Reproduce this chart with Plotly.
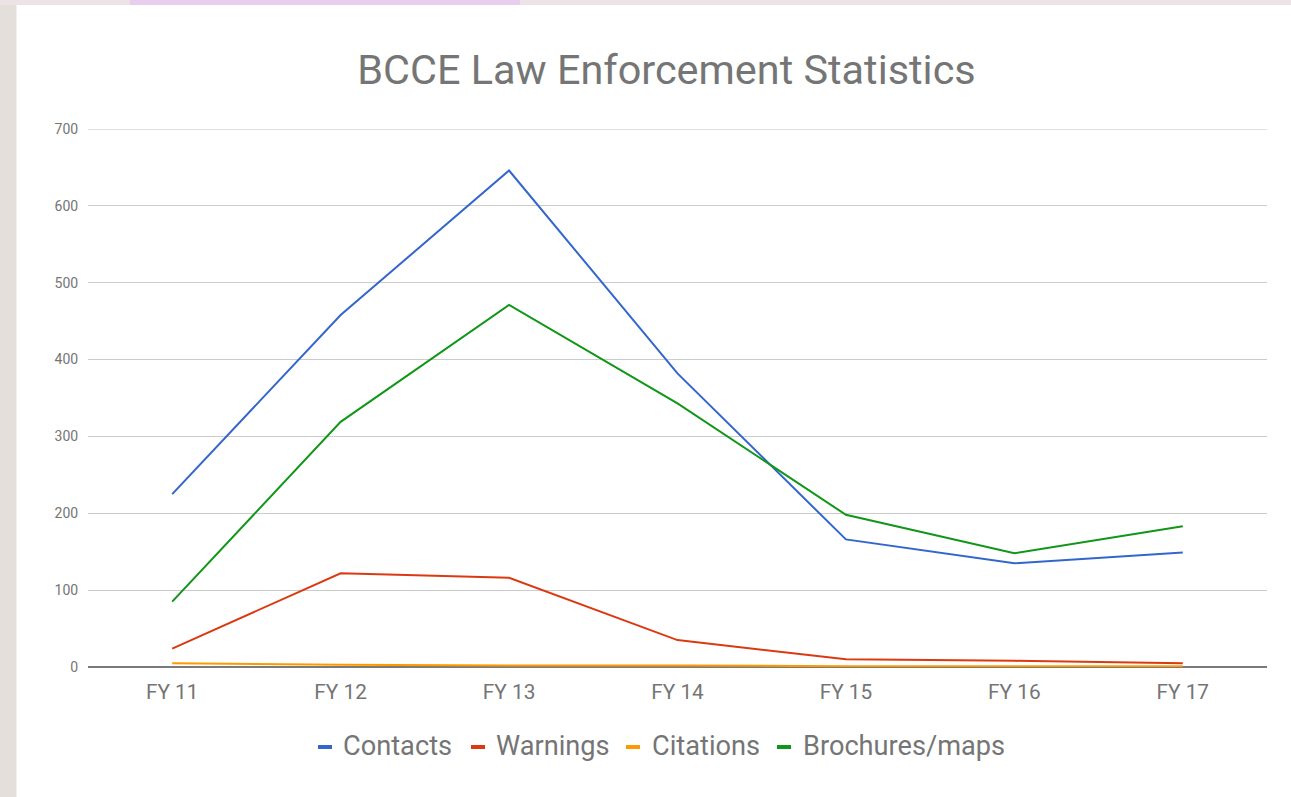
import plotly.graph_objects as go

# ---- data ----
categories = ["FY 11", "FY 12", "FY 13", "FY 14", "FY 15", "FY 16", "FY 17"]
contacts = [225, 458, 646, 382, 166, 135, 149]
warnings = [24, 122, 116, 35, 10, 8, 5]
citations = [5, 3, 2, 2, 1, 1, 1]
brochures = [85, 319, 471, 343, 198, 148, 183]
y_ticks = [0, 100, 200, 300, 400, 500, 600, 700]

series_names = ["Contacts", "Warnings", "Citations", "Brochures/maps"]
series_values = [contacts, warnings, citations, brochures]
series_colors = ["#3366cc", "#dc3912", "#ff9900", "#109618"]

# ---- layout geometry ----
W, H = 1291, 797
ML, MR, MT, MB = 88, 24, 129, 130
PW = W - ML - MR
PH = H - MT - MB


def px_x(px):
    return (px - ML) / PW


def px_y(py):
    return (H - MB - py) / PH


fig = go.Figure()
for name, vals, col in zip(series_names, series_values, series_colors):
    fig.add_trace(go.Scatter(x=categories, y=vals, mode="lines", name=name,
                             line=dict(color=col, width=2), showlegend=False))

shapes = []
# background outside the white card
shapes.append(dict(type="rect", xref="paper", yref="paper",
                   x0=px_x(0), x1=px_x(16.5), y0=px_y(H), y1=px_y(0),
                   fillcolor="#e4dfdb", line=dict(width=0), layer="below"))
shapes.append(dict(type="rect", xref="paper", yref="paper",
                   x0=px_x(0), x1=px_x(W), y0=px_y(5), y1=px_y(0),
                   fillcolor="#ebe3e6", line=dict(width=0), layer="below"))
shapes.append(dict(type="rect", xref="paper", yref="paper",
                   x0=px_x(130), x1=px_x(520), y0=px_y(5), y1=px_y(0),
                   fillcolor="#e9cdee", line=dict(width=0), layer="below"))
# top gridline (at the range edge)
shapes.append(dict(type="line", xref="paper", yref="y", x0=0, x1=1,
                   y0=y_ticks[-1], y1=y_ticks[-1], line=dict(color="#c4c4c4", width=1.2),
                   layer="above"))

# custom legend
legend_dash_x = [318, 471, 626, 777]
legend_text_x = [341, 494, 650, 801]
annotations = []
for name, col, dx, tx in zip(series_names, series_colors, legend_dash_x, legend_text_x):
    shapes.append(dict(type="rect", xref="paper", yref="paper",
                       x0=px_x(dx), x1=px_x(dx + 14), y0=px_y(749), y1=px_y(745),
                       fillcolor=col, line=dict(width=0)))
    annotations.append(dict(xref="paper", yref="paper", x=px_x(tx), y=px_y(746),
                            xanchor="left", yanchor="middle", showarrow=False,
                            text=name, font=dict(family="Roboto", size=27.2, color="#757575")))

fig.update_layout(
    width=W, height=H,
    margin=dict(l=ML, r=MR, t=MT, b=MB),
    paper_bgcolor="white", plot_bgcolor="white",
    title=dict(text="BCCE Law Enforcement Statistics", x=666.5 / W, xref="container",
               xanchor="center", y=1 - 70 / H, yref="container", yanchor="middle",
               font=dict(family="Roboto", size=41.4, color="#757575")),
    shapes=shapes, annotations=annotations,
    showlegend=False,
)
fig.update_xaxes(type="category", range=[-0.5, 6.5], showgrid=False, showline=False,
                 ticks="outside", ticklen=6, tickcolor="rgba(0,0,0,0)",
                 tickfont=dict(family="Roboto", size=20.8, color="#757575"), zeroline=False)
fig.update_yaxes(range=[0, 700], tickvals=y_ticks, showgrid=True, gridcolor="#cccccc",
                 gridwidth=1, zeroline=True, zerolinecolor="#7a7a7a", zerolinewidth=1.5,
                 showline=False, ticks="outside", ticklen=6, tickcolor="rgba(0,0,0,0)",
                 tickfont=dict(family="Roboto", size=14, color="#757575"))

fig.write_html("out.html", config={"displayModeBar": False},
               post_script="document.body.style.margin='0';document.body.style.overflow='hidden';")
